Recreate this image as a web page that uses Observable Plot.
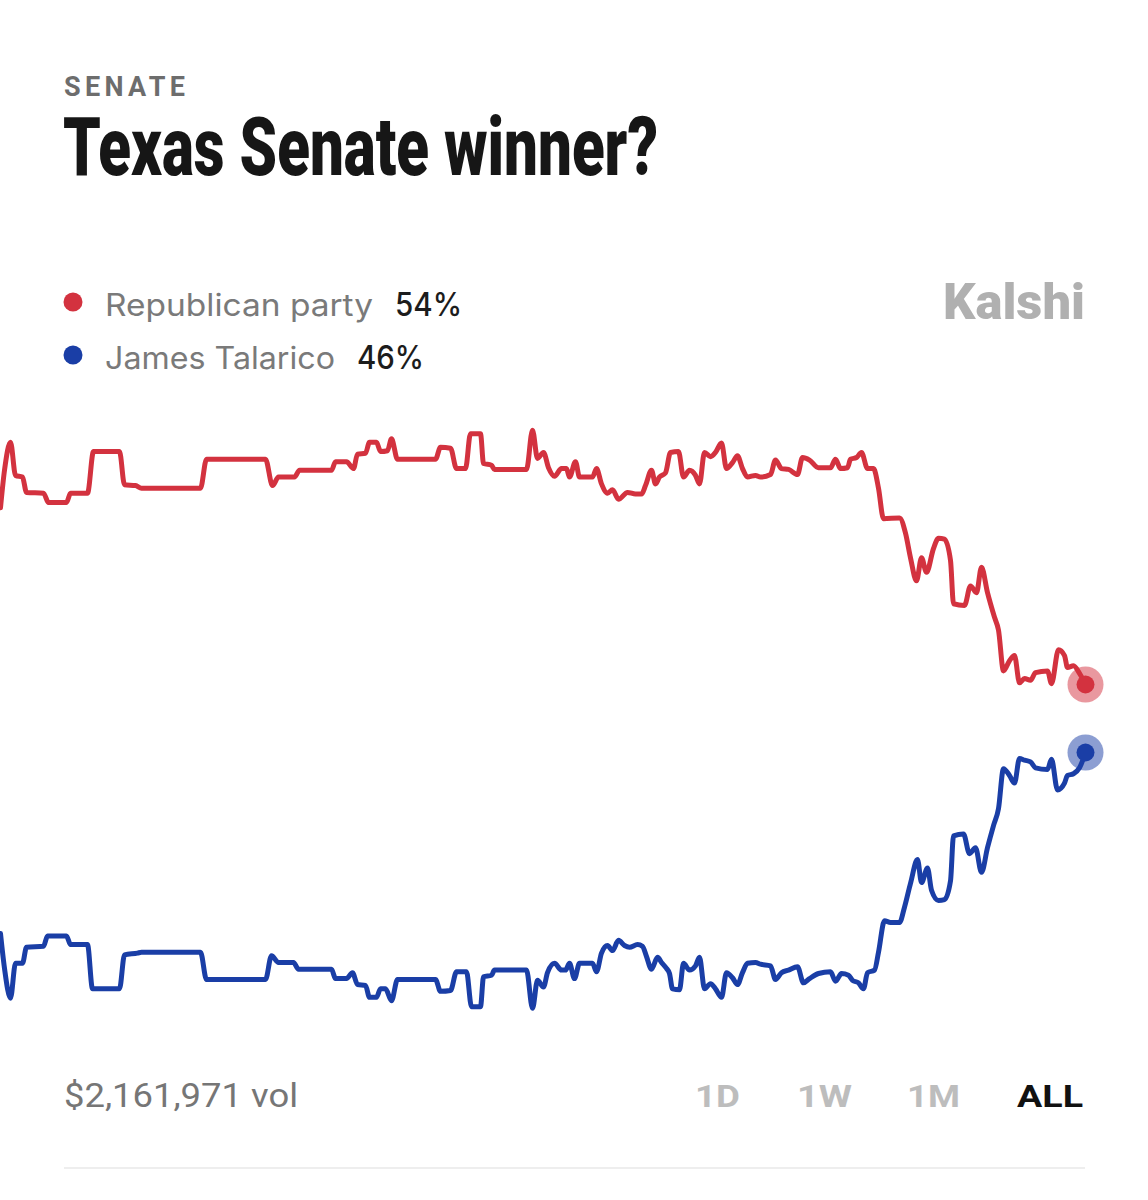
<!DOCTYPE html>
<html><head><meta charset="utf-8">
<script src="https://cdn.jsdelivr.net/npm/d3@7"></script>
<script src="https://cdn.jsdelivr.net/npm/@observablehq/plot@0.6"></script>
<style>
html,body{margin:0;padding:0;background:#fff;}
body{width:1148px;height:1200px;position:relative;overflow:hidden;font-family:Roboto,"Noto Sans",sans-serif;}
#overlay{position:absolute;left:0;top:0;}
#chart{position:absolute;left:0;top:400px;}
</style>
</head><body>
<svg id="overlay" width="1148" height="1200"></svg>
<div id="chart"></div>
<script>
// ---- data ----
const kicker = "SENATE";
const title = "Texas Senate winner?";
const seriesNames = ["Republican party", "James Talarico"];
const seriesLatest = ["54%", "46%"];
const brand = "Kalshi";
const volumeLabel = "$2,161,971 vol";
const ranges = ["1D", "1W", "1M", "ALL"];
const activeRange = "ALL";

// time index (arbitrary units along the market's life) and chance in %
const redT = [0,4,10,15,22,26,43,48,66,70,87,93,119,124,135,141,200,206,265,272,278,294,299,331,335,346,353,357,365,369,376,380,387,391,397,435,440,450,456,465,470,480,483,491,494,526,532,537,543,548,554,561,566,569,575,579,592,596,601,607,612,618,627,635,641,645,651,655,659,665,670,678,683,689,695,699,704,710,715,721,726,732,737,742,747,755,760,770,775,781,788,797,802,809,818,830,835,840,847,850,856,861,867,873,878,883,899,905,910,916,921,926,933,938,944,950,953,964,970,976,981,987,994,998,1003,1009,1014,1019,1024,1030,1035,1047,1051,1058,1064,1067,1073,1079,1085];
const redV = [74.8,79.2,82.5,78.6,78.4,76.6,76.5,75.4,75.4,76.5,76.5,81.4,81.4,77.5,77.4,77.1,77.1,80.5,80.5,77.4,78.4,78.4,79.2,79.2,80.2,80.2,79.4,81.1,81.2,82.5,82.5,81.4,81.5,82.9,80.5,80.5,81.9,81.8,79.4,79.4,83.5,83.5,80.0,79.8,79.3,79.3,83.9,80.6,81.3,79.5,78.5,79.4,79.4,78.4,80.2,78.4,78.4,79.4,77.6,76.5,76.9,75.8,76.6,76.4,76.4,77.4,79.2,77.6,78.4,78.9,81.3,81.4,78.4,79.2,78.6,77.6,81.3,80.8,81.3,82.4,79.4,80.1,80.9,79.4,78.4,78.6,78.4,78.7,80.4,79.4,79.3,78.7,80.7,80.4,79.5,79.5,80.5,79.4,79.5,80.5,80.7,81.3,79.4,79.4,77.1,73.5,73.6,71.8,68.9,66.2,68.9,67.2,70.0,71.2,71.1,68.6,63.5,63.3,65.6,64.8,67.8,64.8,61.9,60.4,55.6,56.8,57.4,54.2,54.7,54.5,55.4,55.6,54.1,58.1,57.4,56.0,56.2,55.3,54.0];

const blueT = [0,4,10,15,22,26,43,47,66,70,87,92,119,124,137,141,200,206,265,271,278,293,298,331,335,346,352,357,365,369,376,380,385,391,397,435,440,450,456,466,471,480,483,491,494,526,532,537,543,547,554,561,565,569,574,579,592,596,601,607,612,618,624,629,637,642,646,651,657,661,666,669,672,679,683,689,695,699,704,710,715,721,726,732,737,742,747,755,760,770,775,781,788,797,803,809,818,830,835,841,848,852,858,863,867,874,878,884,890,899,904,910,917,921,927,931,938,944,950,953,963,969,975,981,987,993,998,1003,1009,1014,1019,1024,1030,1035,1047,1051,1057,1064,1067,1073,1079,1085];
const blueV = [24.7,20.6,17.1,21.2,21.2,23.1,23.2,24.4,24.4,23.4,23.4,18.2,18.2,22.2,22.4,22.5,22.5,19.3,19.3,22.1,21.3,21.3,20.5,20.5,19.4,19.4,20.1,18.7,18.6,17.2,17.2,18.2,18.2,16.8,19.3,19.3,17.9,18.0,20.2,20.2,16.1,16.1,19.6,19.8,20.4,20.4,15.9,19.2,18.4,20.1,21.2,20.4,20.4,21.2,19.4,21.2,21.2,20.2,22.4,23.3,22.7,23.9,23.3,23.1,23.4,23.2,22.0,20.5,21.9,21.3,20.6,20.0,18.2,18.1,21.2,20.4,20.9,21.9,18.2,18.8,18.2,17.2,20.1,19.5,18.7,20.1,21.2,21.3,21.1,20.9,19.3,20.1,20.4,20.8,18.9,19.4,20.0,20.2,19.1,20.0,19.8,19.2,18.9,18.2,20.1,20.4,22.5,26.2,26.0,26.0,27.8,30.6,33.4,30.7,32.4,29.8,28.6,28.7,30.9,36.2,36.4,34.1,34.8,31.9,34.8,37.4,39.4,44.1,43.3,42.4,45.3,45.1,44.9,44.2,44.0,45.2,41.6,42.4,43.3,43.5,44.2,46.0];

const colors = ["#d3323f", "#1a3ea6"];

// ---- chart ----
const red = redT.map((t, i) => ({t, v: redV[i]}));
const blue = blueT.map((t, i) => ({t, v: blueV[i]}));
const lastRed = [red[red.length - 1]];
const lastBlue = [blue[blue.length - 1]];

const chart = Plot.plot({
  width: 1148,
  height: 640,
  marginLeft: 0,
  marginTop: 0,
  marginBottom: 0,
  marginRight: 63,
  x: {domain: [0, 1085], axis: null},
  y: {domain: [12.12, 87.41], axis: null},
  marks: [
    Plot.line(red, {x: "t", y: "v", stroke: colors[0], strokeWidth: 5, curve: "monotone-x"}),
    Plot.line(blue, {x: "t", y: "v", stroke: colors[1], strokeWidth: 5, curve: "monotone-x"}),
    Plot.dot(lastRed, {x: "t", y: "v", r: 18, fill: colors[0], fillOpacity: 0.5}),
    Plot.dot(lastRed, {x: "t", y: "v", r: 9, fill: colors[0]}),
    Plot.dot(lastBlue, {x: "t", y: "v", r: 18, fill: colors[1], fillOpacity: 0.5}),
    Plot.dot(lastBlue, {x: "t", y: "v", r: 9, fill: colors[1]})
  ]
});
document.getElementById("chart").appendChild(chart);

// ---- header, legend, footer (text) ----
const ov = d3.select("#overlay");
ov.append("text").attr("x", 64).attr("y", 96).attr("textLength", 121)
  .attr("font-size", 27).attr("font-weight", 700).attr("fill", "#6d6d6d").text(kicker);
ov.append("text").attr("x", 63).attr("y", 175).attr("textLength", 595).attr("lengthAdjust", "spacingAndGlyphs")
  .attr("font-size", 81).attr("font-weight", 900).attr("fill", "#161616").text(title);

const legendY = [302, 355];
const nameEnds = [373, 335];
const pctX = [395, 357];
seriesNames.forEach((name, i) => {
  ov.append("circle").attr("cx", 73).attr("cy", legendY[i]).attr("r", 9.5).attr("fill", colors[i]);
  ov.append("text").attr("x", 105).attr("y", legendY[i] + 14).attr("textLength", nameEnds[i] - 105)
    .attr("lengthAdjust", "spacingAndGlyphs").attr("font-family", "Inter, Roboto, sans-serif")
    .attr("font-size", 31).attr("fill", "#7a7a7a").text(name);
  ov.append("text").attr("x", pctX[i]).attr("y", legendY[i] + 14).attr("textLength", 67)
    .attr("lengthAdjust", "spacingAndGlyphs").attr("font-family", "Inter, Roboto, sans-serif")
    .attr("font-size", 32).attr("font-weight", 500).attr("fill", "#1c1c1c").text(seriesLatest[i]);
});

ov.append("text").attr("x", 943).attr("y", 319).attr("textLength", 142).attr("lengthAdjust", "spacingAndGlyphs")
  .attr("font-size", 50).attr("font-weight", 900).attr("fill", "#b0b0b0").text(brand);

ov.append("text").attr("x", 64).attr("y", 1107).attr("textLength", 234).attr("lengthAdjust", "spacingAndGlyphs")
  .attr("font-size", 33).attr("fill", "#767676").text(volumeLabel);

const rangeX = [695, 797, 907, 1017];
const rangeW = [45, 55, 53, 66];
ranges.forEach((r, i) => {
  ov.append("text").attr("x", rangeX[i]).attr("y", 1107).attr("textLength", rangeW[i])
    .attr("lengthAdjust", "spacingAndGlyphs")
    .attr("font-size", 31).attr("font-weight", 700)
    .attr("fill", r === activeRange ? "#111" : "#bdbdbd").text(r);
});
ov.append("rect").attr("x", 64).attr("y", 1167).attr("width", 1021).attr("height", 2).attr("fill", "#eeeeee");
</script>
</body></html>
